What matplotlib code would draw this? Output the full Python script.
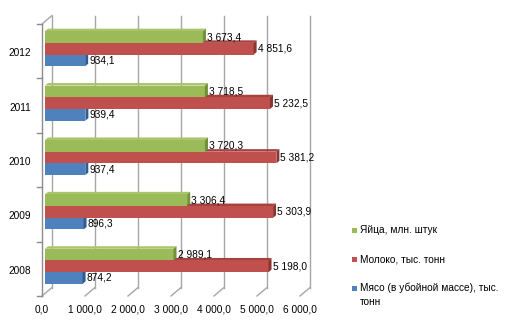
import matplotlib
matplotlib.use("Agg")
import matplotlib.pyplot as plt
from matplotlib.patches import Polygon, Rectangle
from matplotlib.lines import Line2D
from matplotlib.transforms import IdentityTransform, ScaledTranslation

plt.rcParams["font.family"] = ["Liberation Sans", "DejaVu Sans"]

# ---- data ----
years = ["2008", "2009", "2010", "2011", "2012"]
meat = [874.2, 896.3, 937.4, 939.4, 934.1]
milk = [5198.0, 5303.9, 5381.2, 5232.5, 4851.6]
eggs = [2989.1, 3306.4, 3720.3, 3718.5, 3673.4]
series_names = ["Мясо (в убойной массе), тыс.\nтонн", "Молоко, тыс. тонн", "Яйца, млн. штук"]
x_ticks = [0, 1000, 2000, 3000, 4000, 5000, 6000]

# front / top / side colours for each series
face_cols = ["#4F81BD", "#C0504D", "#9BBB59"]
top_cols = ["#5A8AC4", "#A5423F", "#A8C56B"]
side_cols = ["#2F5C92", "#8A3532", "#71903A"]

FS = 7.3

W, H = 524, 327
fig = plt.figure(figsize=(W / 100, H / 100), dpi=100)
fig.patch.set_facecolor("white")

# front plane of the 3-D box
ax = fig.add_axes([42 / W, (H - 296) / H, 258 / W, 272 / H])
ax.set_xlim(0, 6000)
ax.set_ylim(-0.5, len(years) - 0.5)
ax.axis("off")

WALL = (10.0, 8.5)        # depth of the back wall, pixels (x, up)
BAR_FRONT = (3.0, 2.5)    # bar front face depth
BAR_BACK = (6.0, 5.0)     # bar back face depth
GRID = "#A6A6A6"
ID = IdentityTransform()


def pix(x, y, off=(0.0, 0.0)):
    px, py = ax.transData.transform((x, y))
    return (px + off[0], py + off[1])


def fmt(v, nd=1):
    s = f"{v:,.{nd}f}"
    return s.replace(",", " ").replace(".", ",")


ymin, ymax = -0.5, len(years) - 0.5

# back-wall gridlines and floor lines
for t in x_ticks:
    b0 = pix(t, ymin, WALL)
    b1 = pix(t, ymax, WALL)
    ax.add_artist(Line2D([b0[0], b1[0]], [b0[1], b1[1]], color=GRID, lw=1.0,
                         transform=ID, clip_on=False, zorder=1))
    f0 = pix(t, ymin)
    ax.add_artist(Line2D([f0[0], b0[0]], [f0[1], b0[1]], color=GRID, lw=1.0,
                         transform=ID, clip_on=False, zorder=1))

# left wall: front edge and top edge
f_top = pix(0, ymax)
f_bot = pix(0, ymin)
b_top = pix(0, ymax, WALL)
ax.add_artist(Line2D([f_bot[0], f_top[0]], [f_bot[1], f_top[1]], color="#8C8C8C", lw=1.0,
                     transform=ID, clip_on=False, zorder=1))
ax.add_artist(Line2D([f_top[0], b_top[0]], [f_top[1], b_top[1]], color=GRID, lw=1.0,
                     transform=ID, clip_on=False, zorder=1))

# category tick marks on the front edge
for k in range(len(years) + 1):
    p = pix(0, ymin + k)
    ax.add_artist(Line2D([p[0] - 5, p[0]], [p[1], p[1]], color="#8C8C8C", lw=1.0,
                         transform=ID, clip_on=False, zorder=1))

# bars
bh = 0.215
offsets = [-bh, 0.0, bh]
front_shift = ax.transData + ScaledTranslation(BAR_FRONT[0] / 100, BAR_FRONT[1] / 100,
                                               fig.dpi_scale_trans)
for i, vals in enumerate([meat, milk, eggs]):
    z = 10 + 3 * i
    ys = [k + offsets[i] for k in range(len(years))]
    ax.barh(ys, vals, height=bh, left=0, color=face_cols[i], transform=front_shift,
            zorder=z + 1, clip_on=False, linewidth=0)
    for y, v in zip(ys, vals):
        y0, y1 = y - bh / 2, y + bh / 2
        # top face
        top = [pix(0, y1, BAR_FRONT), pix(v, y1, BAR_FRONT),
               pix(v, y1, BAR_BACK), pix(0, y1, BAR_BACK)]
        ax.add_artist(Polygon(top, closed=True, facecolor=top_cols[i], edgecolor="none",
                              transform=ID, clip_on=False, zorder=z))
        # side face at the bar end
        side = [pix(v, y0, BAR_FRONT), pix(v, y1, BAR_FRONT),
                pix(v, y1, BAR_BACK), pix(v, y0, BAR_BACK)]
        ax.add_artist(Polygon(side, closed=True, facecolor=side_cols[i], edgecolor="none",
                              transform=ID, clip_on=False, zorder=z + 2))
        # value label
        lx, ly = pix(v, y, BAR_FRONT)
        ax.text(lx + 4, ly, fmt(v), transform=ID, ha="left", va="center",
                fontsize=FS, color="black", zorder=30, clip_on=False)

# category labels
for k, yr in enumerate(years):
    px_, py_ = pix(0, k)
    ax.text(31, py_ - 2, yr, transform=ID, ha="right", va="center", fontsize=FS,
            color="black", clip_on=False)

# value axis labels
for t in x_ticks:
    px_, py_ = pix(t, ymin)
    ax.text(px_, py_ - 14, fmt(t), transform=ID, ha="center", va="center", fontsize=FS,
            color="black", clip_on=False)

# legend (top entry = last series)
leg_rows = [230, 259, 288]
for row_y, idx in zip(leg_rows, [2, 1, 0]):
    fig.add_artist(Rectangle(((354.5 - 2.5) / W, (H - row_y - 2.5) / H), 5 / W, 5 / H,
                             transform=fig.transFigure, facecolor=face_cols[idx],
                             edgecolor="none"))
    fig.text(360 / W, (H - row_y + 5) / H, series_names[idx], ha="left", va="top",
             fontsize=FS, color="black", linespacing=1.5)

fig.savefig("out.png", dpi=100, facecolor="white")
